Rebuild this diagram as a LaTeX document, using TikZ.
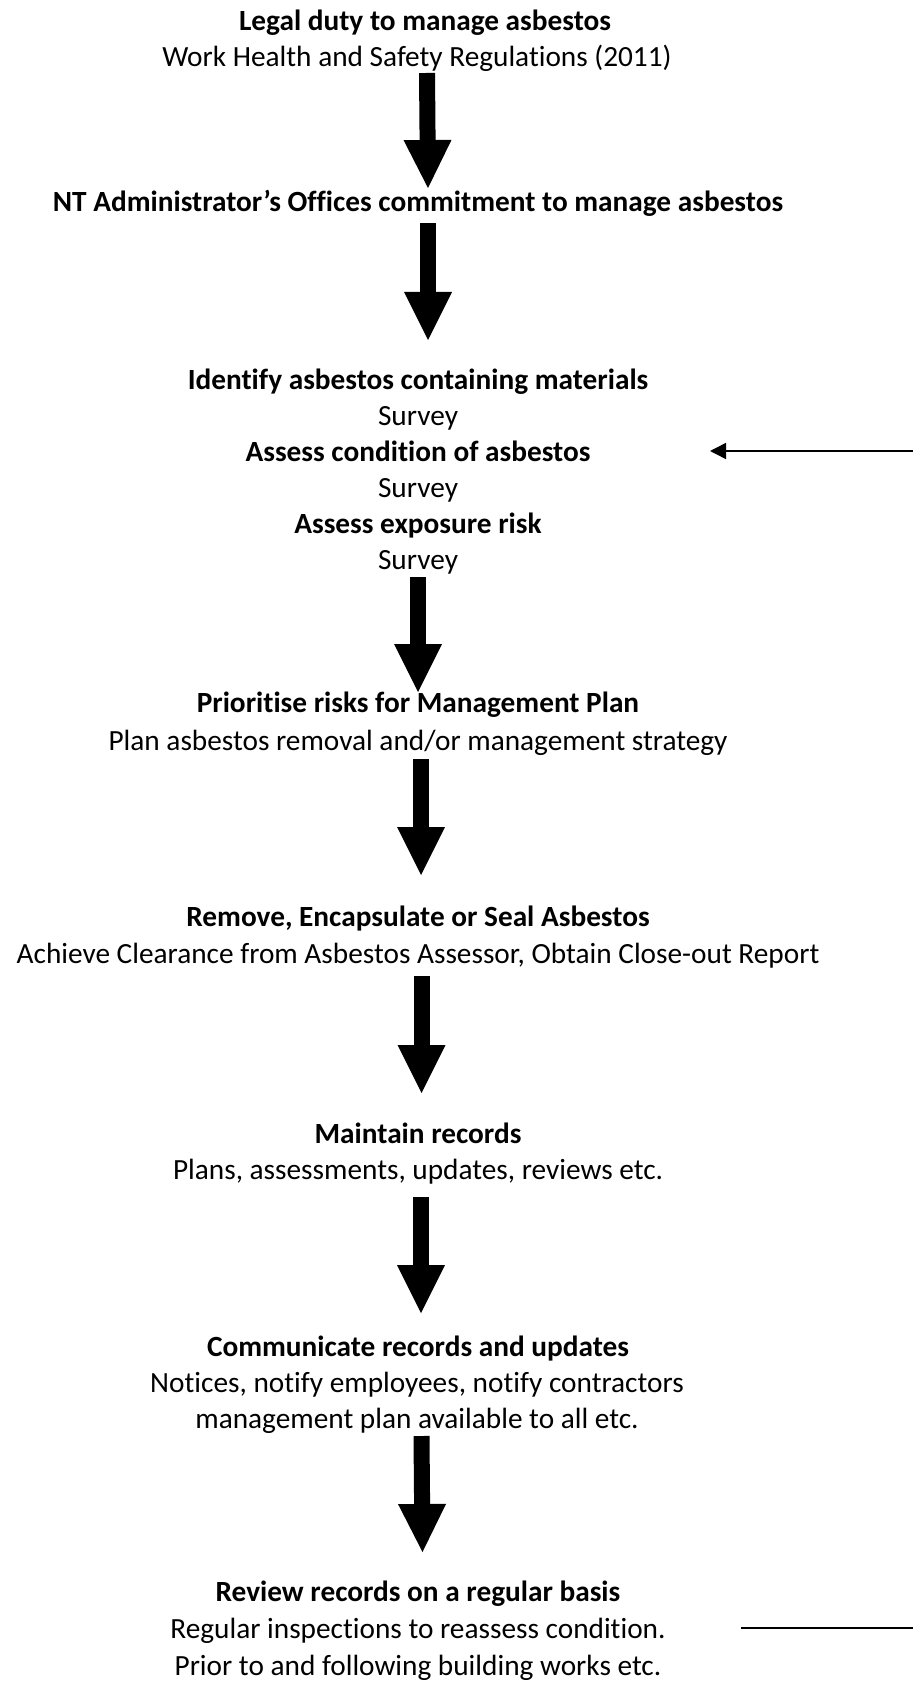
\documentclass[tikz,border=0pt]{standalone}
\usepackage{fontspec}
\setmainfont{Carlito}[Ligatures={NoCommon,NoContextual}]
\usetikzlibrary{arrows.meta}

\tikzset{
  head line/.style={anchor=base, inner sep=0pt, font=\fontsize{14.65}{18}\selectfont\bfseries},
  body line/.style={anchor=base, inner sep=0pt, font=\fontsize{14.65}{18}\selectfont},
  block arrow/.style={line width=8pt, -{Triangle[width=24pt,length=24pt,line width=0pt]}},
  loop line/.style={line width=0.75pt},
}

\begin{document}
\begin{tikzpicture}[x=0.5pt, y=-0.5pt]
	\useasboundingbox (0,0) rectangle (913,1684);
	
	% legal duty
	\node [head line] (legal) at (425,31) {Legal duty to manage asbestos};
	\node [body line] (whs) at (417,67) {Work Health and Safety Regulations (2011)};
	
	\node [head line] (nt) at (418,212) {NT Administrator’s Offices commitment to manage asbestos};
	
	% identify / assess
	\foreach \t/\m [count=\i] in {Identify asbestos containing materials/ident, Assess condition of asbestos/cond, Assess exposure risk/expo}
	  \node [head line] (\m) at (418,{390+(\i-1)*71.5}) {\t};
	\foreach \i in {1,2,3}
	  \node [body line] (surv-\i) at (418,{426+(\i-1)*71.5}) {Survey};
	
	% prioritise
	\node [head line] (prio) at (418,712) {Prioritise risks for Management Plan};
	\node [body line] (plan) at (418,750) {Plan asbestos removal and/or management strategy};
	
	% remove
	\node [head line] (remove) at (418,926) {Remove, Encapsulate or Seal Asbestos};
	\node [body line] (achieve) at (418,963) {Achieve Clearance from Asbestos Assessor, Obtain Close-out Report};
	
	% records
	\node [head line] (maint) at (418,1143) {Maintain records};
	\node [body line] (plans) at (418,1179) {Plans, assessments, updates, reviews etc.};
	
	\node [head line] (comm) at (418,1356) {Communicate records and updates};
	\node [body line] (notices) at (417,1392) {Notices, notify employees, notify contractors};
	\node [body line] (mgmt) at (417,1428) {management plan available to all etc.};
	
	% review
	\node [head line] (review) at (418,1601) {Review records on a regular basis};
	\node [body line] (regular) at (418,1638) {Regular inspections to reassess condition.};
	\node [body line] (prior) at (418,1675) {Prior to and following building works etc.};
	
	% block arrows
	\foreach \a/\b/\dx/\ya/\yb in {whs/nt/10/6/-24, nt/ident/10/11/-50, surv-3/prio/0/8/-20,
	    plan/remove/3/9/-51, achieve/maint/3.5/13/-50, plans/comm/3/18/-43, mgmt/review/4.5/8/-49}
	  \draw [block arrow] ([shift={(\dx,\ya)}]\a.base) -- ([shift={(\dx,\yb)}]\b.base);
	
	% loop back from the review
	\coordinate (loop-top) at (913,451);
	\coordinate (loop-in) at (710,451);
	\coordinate (loop-out) at (741,1628);
	\coordinate (loop-bottom) at (913,1628);
	\draw [loop line, -{Triangle[width=8pt,length=8pt]}] (loop-top) -- (loop-in);
	\draw [loop line] (loop-out) -- (loop-bottom);
\end{tikzpicture}
\end{document}
